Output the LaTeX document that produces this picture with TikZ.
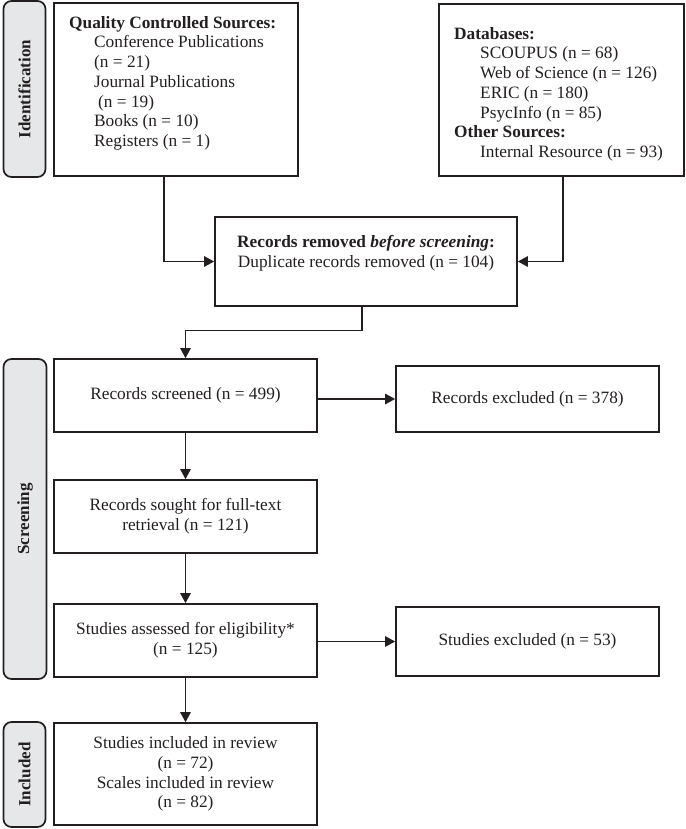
\documentclass[tikz,border=0pt]{standalone}
\usepackage{fontspec}
\setmainfont{Liberation Serif}
\usetikzlibrary{arrows.meta}
\definecolor{ink}{HTML}{231F20}
\definecolor{band}{HTML}{E6E7E8}
\begin{document}
\begin{tikzpicture}[x=1pt,y=-1pt,
  font=\fontsize{17.3}{19.7}\selectfont,
  box/.style={draw=ink,line width=1.7pt,inner sep=0pt,align=center,text=ink},
  stage/.style={draw=ink,fill=band,line width=1.7pt,rounded corners=8pt,rotate=90,
    font=\fontsize{17}{20}\selectfont\bfseries,inner sep=0pt,text=ink},
  txt/.style={inner sep=0pt,text=ink},
  conn/.style={draw=ink,line width=1.1pt},
  arr/.style={conn,-{Triangle[length=10pt,width=10.5pt]}}
]
\useasboundingbox (0,0) rectangle (685,829);

% stage labels
\node[stage,minimum width=176pt,minimum height=42pt] (lid) at (24.5,89) {Identification};
\node[stage,minimum width=320pt,minimum height=43pt] (lscr) at (25,519) {Screening};
\node[stage,minimum width=105pt,minimum height=42pt] (linc) at (24.5,774.5) {Included};

% identification boxes
\node[box,minimum width=244pt,minimum height=173pt] (qual) at (176,89.5) {};
\node[txt,anchor=north west,align=left] (qualtxt) at (69,16)
  {\textbf{Quality Controlled Sources:}\\
   \hspace*{25pt}Conference Publications\\
   \hspace*{25pt}(n = 21)\\
   \hspace*{25pt}Journal Publications\\
   \hspace*{29pt}(n = 19)\\
   \hspace*{25pt}Books (n = 10)\\
   \hspace*{25pt}Registers (n = 1)};

\node[box,minimum width=245pt,minimum height=172pt] (db) at (561.5,90) {};
\node[txt,anchor=north west,align=left] (dbtxt) at (454,27)
  {\textbf{Databases:}\\
   \hspace*{26pt}SCOUPUS (n = 68)\\
   \hspace*{26pt}Web of Science (n = 126)\\
   \hspace*{26pt}ERIC (n = 180)\\
   \hspace*{26pt}PsycInfo (n = 85)\\
   \textbf{Other Sources:}\\
   \hspace*{26pt}Internal Resource (n = 93)};

\node[box,minimum width=302pt,minimum height=89pt] (rem) at (366,261.5) {};
\node[txt,align=center] (remtxt) at (366,253)
  {\textbf{Records removed \textit{before screening}:}\\
   Duplicate records removed (n = 104)};

% screening
\node[box,minimum width=263pt,minimum height=73pt] (scr) at (185.5,395.5) {Records screened (n = 499)};
\node[box,minimum width=263pt,minimum height=66pt] (exc) at (527.5,399) {Records excluded (n = 378)};
\node[box,minimum width=263pt,minimum height=73pt] (sought) at (185.5,516.5) {Records sought for full-text\\retrieval (n = 121)};
\node[box,minimum width=263pt,minimum height=73pt] (elig) at (185.5,640.5) {Studies assessed for eligibility*\\(n = 125)};
\node[box,minimum width=263pt,minimum height=69pt] (sexc) at (527.5,641.5) {Studies excluded (n = 53)};

% included
\node[box,minimum width=263pt,minimum height=102pt] (incl) at (185.5,774) {Studies included in review\\(n = 72)\\Scales included in review\\(n = 82)};

% connectors
\draw[arr] ([xshift=-12pt]qual.south) |- (rem.west);
\draw[arr] ([xshift=1.5pt]db.south) |- (rem.east);
\draw[arr] ([xshift=-4pt]rem.south) -- ++(0,24) -| (scr.north);
\draw[arr] (scr.east |- exc.west) -- (exc.west);
\draw[arr] (scr.south) -- (sought.north);
\draw[arr] (sought.south) -- (elig.north);
\draw[arr] (elig.east |- sexc.west) -- (sexc.west);
\draw[arr] (elig.south) -- (incl.north);
\end{tikzpicture}
\end{document}
